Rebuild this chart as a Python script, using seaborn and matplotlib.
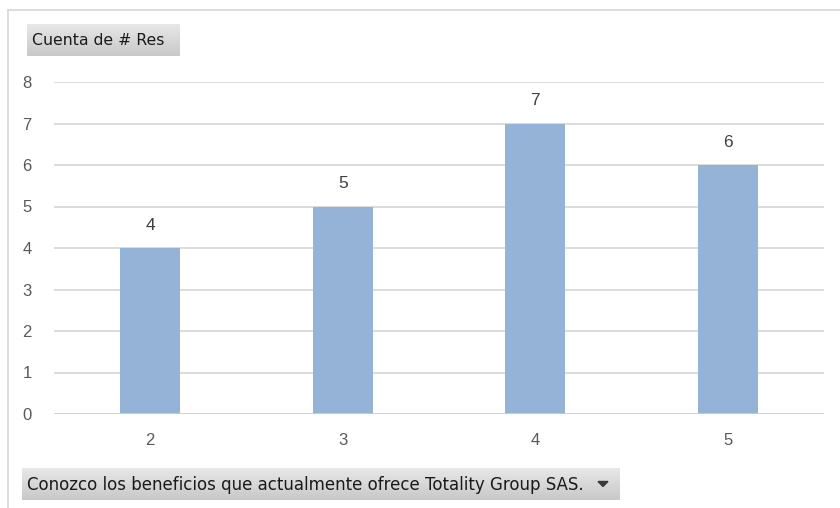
import numpy as np
import pandas as pd
import matplotlib
matplotlib.use("Agg")
import matplotlib.pyplot as plt
import seaborn as sns
from matplotlib.patches import Polygon

categories = ["2", "3", "4", "5"]
counts = [4, 5, 7, 6]
y_ticks = [0, 1, 2, 3, 4, 5, 6, 7, 8]
value_title = "Cuenta de # Res"
field_title = "Conozco los beneficios que actualmente ofrece Totality Group SAS."

sns.set_theme(style="white")
plt.rcParams["font.family"] = ["Liberation Sans", "DejaVu Sans"]

W, H = 840, 508
fig = plt.figure(figsize=(W / 100, H / 100), dpi=100)
fig.patch.set_facecolor("white")


def fx(px):
    return px / W


def fy(py):
    return 1 - py / H


# outer chart frame
fig.add_artist(plt.Line2D([fx(8), fx(840)], [fy(9.5), fy(9.5)], color="#D9D9D9", lw=1.3))
fig.add_artist(plt.Line2D([fx(7.5), fx(7.5)], [fy(9.5), fy(508)], color="#D9D9D9", lw=1.3))

# plot area
left, right, top, bottom = 54, 824, 82, 414
ax = fig.add_axes([fx(left), fy(bottom), fx(right - left), (bottom - top) / H])
df = pd.DataFrame({"cat": categories, "n": counts})
sns.barplot(data=df, x="cat", y="n", color="#95B3D7", saturation=1, width=0.31, ax=ax, zorder=3)
for p in ax.patches:
    p.set_edgecolor("none")
ax.set_xlim(-0.5, len(categories) - 0.5)
ax.set_ylim(0, 8)
ax.set_yticks(y_ticks)
ax.yaxis.grid(True, color="#D9D9D9", lw=1.3, zorder=0)
ax.axhline(0, color="#D0D0D0", lw=1.8, zorder=4)
for s in ax.spines.values():
    s.set_visible(False)
ax.set_xlabel("")
ax.set_ylabel("")
ax.tick_params(axis="y", length=0, pad=16, labelsize=12, labelcolor="#595959")
ax.tick_params(axis="x", length=0, pad=14, labelsize=12, labelcolor="#595959")
ax.set_facecolor("none")

for i, v in enumerate(counts):
    ax.annotate(str(v), (i, v), xytext=(0, 11), textcoords="offset points",
                ha="center", va="bottom", fontsize=12.5, color="#404040")


def button(x0, y0, x1, y1, label, arrow=False):
    bax = fig.add_axes([fx(x0), fy(y1), fx(x1 - x0), (y1 - y0) / H])
    grad = np.linspace(0, 1, 64).reshape(-1, 1)
    cmap = matplotlib.colors.LinearSegmentedColormap.from_list("btn", ["#E8E8E8", "#C8C8C8"])
    bax.imshow(grad, aspect="auto", cmap=cmap, extent=[0, 1, 0, 1], origin="upper")
    bax.set_axis_off()
    t = fig.text(fx(x0 + 5), fy((y0 + y1) / 2 + 0.5), label, ha="left", va="center",
                 fontsize=11, color="#1A1A1A", family=["DejaVu Sans"])
    if arrow:
        cx, cy = x1 - 17, (y0 + y1) / 2
        fig.add_artist(Polygon([[fx(cx - 5), fy(cy - 2.5)], [fx(cx + 5), fy(cy - 2.5)], [fx(cx), fy(cy + 2.5)]],
                               closed=True, color="#3A3A3A", transform=fig.transFigure))
    return t


t1 = button(27, 24, 180, 56, value_title)
t2 = button(22, 468, 620, 500, field_title, arrow=True)

# fit label widths to their buttons
fig.canvas.draw()
r = fig.canvas.get_renderer()
for t, target in ((t1, 133), (t2, 558)):
    w = t.get_window_extent(r).width
    t.set_fontsize(t.get_fontsize() * target / w)

fig.savefig("out.png", dpi=100)
